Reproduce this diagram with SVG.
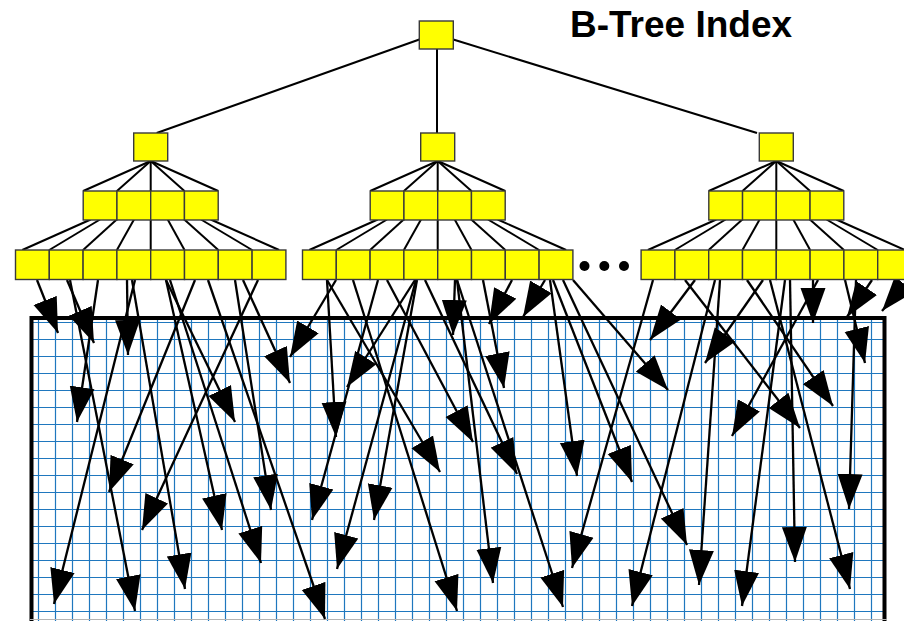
<svg xmlns="http://www.w3.org/2000/svg" width="904" height="621" viewBox="0 0 904 621">
  <style>
    .box { fill: #ffff00; stroke: #3a3a3a; stroke-width: 1.4; }
    .edge { stroke: #000; stroke-width: 2; fill: none; }
    .ptr { stroke: #000; stroke-width: 2.3; fill: none; marker-end: url(#head); }
    .grid { stroke: #1f77be; stroke-width: 1.2; fill: none; }
    .title { font-family: "Liberation Sans", Arial, sans-serif; font-weight: bold; font-size: 37px; fill: #000; }
  </style>
  <defs>
    <marker id="head" markerUnits="userSpaceOnUse" markerWidth="35" markerHeight="26" refX="35" refY="13" orient="auto">
      <path d="M0,0.5 L35,13 L0,25.5 Z" fill="#000"/>
    </marker>
  </defs>

  <rect width="904" height="621" fill="#fff"/>

  <!-- data pages: gridded table area -->
  <g id="table">
    <rect x="31.5" y="318" width="853" height="310" fill="#fff"/>
    <path class="grid" d="
      M38.5,320V621 M55.5,320V621 M72.5,320V621 M89.5,320V621 M106.5,320V621 M123.5,320V621 M140.5,320V621 M157.5,320V621 M174.5,320V621 M191.5,320V621
      M208.5,320V621 M225.5,320V621 M242.5,320V621 M259.5,320V621 M276.5,320V621 M293.5,320V621 M310.5,320V621 M327.5,320V621 M344.5,320V621 M361.5,320V621
      M378.5,320V621 M395.5,320V621 M412.5,320V621 M429.5,320V621 M446.5,320V621 M463.5,320V621 M480.5,320V621 M497.5,320V621 M514.5,320V621 M531.5,320V621
      M548.5,320V621 M565.5,320V621 M582.5,320V621 M599.5,320V621 M616.5,320V621 M633.5,320V621 M650.5,320V621 M667.5,320V621 M684.5,320V621 M701.5,320V621
      M718.5,320V621 M735.5,320V621 M752.5,320V621 M769.5,320V621 M786.5,320V621 M803.5,320V621 M820.5,320V621 M837.5,320V621 M854.5,320V621 M871.5,320V621
      M33,322.5H883 M33,339.5H883 M33,356.5H883 M33,373.5H883 M33,390.5H883 M33,407.5H883 M33,424.5H883 M33,441.5H883 M33,458.5H883
      M33,475.5H883 M33,492.5H883 M33,509.5H883 M33,526.5H883 M33,543.5H883 M33,560.5H883 M33,577.5H883 M33,594.5H883 M33,611.5H883"/>
    <path d="M31.5,624V318H884.5V624" fill="none" stroke="#000" stroke-width="4"/>
    <line x1="30" y1="619.5" x2="887" y2="619.5" stroke="#b4b4b4" stroke-width="1"/>
  </g>

  <!-- connectors: tree edges and leaf-to-row pointers -->
  <g id="connectors">
    <g id="tree-edges" class="edge">
      <line x1="419.3" y1="39.5" x2="156.7" y2="133"/>
      <line x1="437" y1="49" x2="437" y2="133"/>
      <line x1="453.3" y1="39.5" x2="757" y2="133"/>

      <line x1="150.7" y1="161" x2="83.2" y2="191"/>
      <line x1="150.7" y1="161" x2="116.95" y2="191"/>
      <line x1="150.7" y1="161" x2="150.7" y2="250"/>
      <line x1="150.7" y1="161" x2="184.45" y2="191"/>
      <line x1="150.7" y1="161" x2="218.2" y2="191"/>
      <line x1="90.7" y1="219.5" x2="22.3" y2="250"/>
      <line x1="100" y1="219.5" x2="49.3" y2="250"/>
      <line x1="116.7" y1="219.5" x2="83.1" y2="250"/>
      <line x1="134" y1="219.5" x2="116.9" y2="250"/>
      <line x1="167.7" y1="219.5" x2="184.5" y2="250"/>
      <line x1="184.3" y1="219.5" x2="218.3" y2="250"/>
      <line x1="201" y1="219.5" x2="252.1" y2="250"/>
      <line x1="210.7" y1="219.5" x2="279.1" y2="250"/>

      <line x1="437.7" y1="161" x2="370.2" y2="191"/>
      <line x1="437.7" y1="161" x2="403.95" y2="191"/>
      <line x1="437.7" y1="161" x2="437.7" y2="250"/>
      <line x1="437.7" y1="161" x2="471.45" y2="191"/>
      <line x1="437.7" y1="161" x2="505.2" y2="191"/>
      <line x1="377.7" y1="219.5" x2="309.3" y2="250"/>
      <line x1="387" y1="219.5" x2="336.3" y2="250"/>
      <line x1="403.7" y1="219.5" x2="370.1" y2="250"/>
      <line x1="421" y1="219.5" x2="403.9" y2="250"/>
      <line x1="454.7" y1="219.5" x2="471.5" y2="250"/>
      <line x1="471.3" y1="219.5" x2="505.3" y2="250"/>
      <line x1="488" y1="219.5" x2="539.1" y2="250"/>
      <line x1="497.7" y1="219.5" x2="566.1" y2="250"/>

      <line x1="776.3" y1="161" x2="708.8" y2="191"/>
      <line x1="776.3" y1="161" x2="742.55" y2="191"/>
      <line x1="776.3" y1="161" x2="776.3" y2="250"/>
      <line x1="776.3" y1="161" x2="810.05" y2="191"/>
      <line x1="776.3" y1="161" x2="843.8" y2="191"/>
      <line x1="716.3" y1="219.5" x2="647.9" y2="250"/>
      <line x1="725.6" y1="219.5" x2="674.9" y2="250"/>
      <line x1="742.3" y1="219.5" x2="708.7" y2="250"/>
      <line x1="759.6" y1="219.5" x2="742.5" y2="250"/>
      <line x1="793.3" y1="219.5" x2="810.1" y2="250"/>
      <line x1="809.9" y1="219.5" x2="843.9" y2="250"/>
      <line x1="826.6" y1="219.5" x2="877.7" y2="250"/>
      <line x1="836.3" y1="219.5" x2="904.7" y2="250"/>
    </g>

    <g id="row-pointers">
      <line class="ptr" x1="37" y1="280" x2="58" y2="333"/>
      <line class="ptr" x1="67" y1="280" x2="94" y2="343"/>
      <line class="ptr" x1="70" y1="280" x2="135" y2="611"/>
      <line class="ptr" x1="98" y1="280" x2="77" y2="422"/>
      <line class="ptr" x1="127" y1="280" x2="128" y2="355"/>
      <line class="ptr" x1="132" y1="280" x2="185" y2="589"/>
      <line class="ptr" x1="135" y1="280" x2="54" y2="604"/>
      <line class="ptr" x1="166" y1="280" x2="222" y2="530"/>
      <line class="ptr" x1="166" y1="280" x2="235" y2="422"/>
      <line class="ptr" x1="170" y1="280" x2="261" y2="563"/>
      <line class="ptr" x1="195" y1="280" x2="109" y2="492"/>
      <line class="ptr" x1="208" y1="280" x2="325" y2="619"/>
      <line class="ptr" x1="235" y1="280" x2="271" y2="510"/>
      <line class="ptr" x1="243" y1="280" x2="290" y2="383"/>
      <line class="ptr" x1="258" y1="280" x2="142" y2="530"/>

      <line class="ptr" x1="327" y1="280" x2="336" y2="437"/>
      <line class="ptr" x1="327" y1="280" x2="440" y2="472"/>
      <line class="ptr" x1="336" y1="280" x2="290" y2="357"/>
      <line class="ptr" x1="353" y1="280" x2="457" y2="611"/>
      <line class="ptr" x1="378" y1="280" x2="312" y2="520"/>
      <line class="ptr" x1="387" y1="280" x2="473" y2="442"/>
      <line class="ptr" x1="415" y1="280" x2="347" y2="387"/>
      <line class="ptr" x1="417" y1="280" x2="374" y2="520"/>
      <line class="ptr" x1="416" y1="280" x2="337" y2="569"/>
      <line class="ptr" x1="425" y1="280" x2="517" y2="474"/>
      <line class="ptr" x1="455" y1="280" x2="453" y2="335"/>
      <line class="ptr" x1="457" y1="280" x2="493" y2="583"/>
      <line class="ptr" x1="457" y1="280" x2="563" y2="607"/>
      <line class="ptr" x1="483" y1="280" x2="504" y2="388"/>
      <line class="ptr" x1="512" y1="280" x2="489" y2="324"/>
      <line class="ptr" x1="545" y1="280" x2="523" y2="317"/>
      <line class="ptr" x1="550" y1="280" x2="577" y2="476"/>
      <line class="ptr" x1="553" y1="280" x2="632" y2="482"/>
      <line class="ptr" x1="563" y1="280" x2="687" y2="545"/>
      <line class="ptr" x1="573" y1="280" x2="668" y2="390"/>

      <line class="ptr" x1="653" y1="280" x2="572" y2="568"/>
      <line class="ptr" x1="685" y1="280" x2="800" y2="428"/>
      <line class="ptr" x1="695" y1="280" x2="650" y2="340"/>
      <line class="ptr" x1="715" y1="280" x2="632" y2="606"/>
      <line class="ptr" x1="720" y1="280" x2="699" y2="585"/>
      <line class="ptr" x1="747" y1="280" x2="833" y2="406"/>
      <line class="ptr" x1="763" y1="280" x2="705" y2="363"/>
      <line class="ptr" x1="770" y1="280" x2="850" y2="589"/>
      <line class="ptr" x1="785" y1="280" x2="742" y2="606"/>
      <line class="ptr" x1="790" y1="280" x2="795" y2="562"/>
      <line class="ptr" x1="813" y1="280" x2="813" y2="323"/>
      <line class="ptr" x1="818" y1="280" x2="732" y2="436"/>
      <line class="ptr" x1="845" y1="280" x2="865" y2="363"/>
      <line class="ptr" x1="856" y1="280" x2="849" y2="509"/>
      <line class="ptr" x1="872" y1="280" x2="847" y2="317"/>
      <line class="ptr" x1="908" y1="280" x2="882" y2="311"/>
    </g>
  </g>

  <!-- root -->
  <g id="root"><rect class="box" x="419.3" y="21" width="34" height="28"/></g>

  <!-- inner level -->
  <g id="inner-left"><rect class="box" x="133.7" y="133" width="34" height="28"/></g>
  <g id="inner-mid"><rect class="box" x="420.7" y="133" width="34" height="28"/></g>
  <g id="inner-right"><rect class="box" x="759.3" y="133" width="34" height="28"/></g>

  <!-- second level -->
  <g id="level2-left">
    <rect class="box" x="83.2" y="191" width="33.75" height="29"/>
    <rect class="box" x="116.95" y="191" width="33.75" height="29"/>
    <rect class="box" x="150.7" y="191" width="33.75" height="29"/>
    <rect class="box" x="184.45" y="191" width="33.75" height="29"/>
  </g>
  <g id="level2-mid">
    <rect class="box" x="370.2" y="191" width="33.75" height="29"/>
    <rect class="box" x="403.95" y="191" width="33.75" height="29"/>
    <rect class="box" x="437.7" y="191" width="33.75" height="29"/>
    <rect class="box" x="471.45" y="191" width="33.75" height="29"/>
  </g>
  <g id="level2-right">
    <rect class="box" x="708.8" y="191" width="33.75" height="29"/>
    <rect class="box" x="742.55" y="191" width="33.75" height="29"/>
    <rect class="box" x="776.3" y="191" width="33.75" height="29"/>
    <rect class="box" x="810.05" y="191" width="33.75" height="29"/>
  </g>

  <!-- leaves -->
  <g id="leaves-left">
    <rect class="box" x="15.5" y="250" width="33.8" height="29.5"/>
    <rect class="box" x="49.3" y="250" width="33.8" height="29.5"/>
    <rect class="box" x="83.1" y="250" width="33.8" height="29.5"/>
    <rect class="box" x="116.9" y="250" width="33.8" height="29.5"/>
    <rect class="box" x="150.7" y="250" width="33.8" height="29.5"/>
    <rect class="box" x="184.5" y="250" width="33.8" height="29.5"/>
    <rect class="box" x="218.3" y="250" width="33.8" height="29.5"/>
    <rect class="box" x="252.1" y="250" width="33.8" height="29.5"/>
  </g>
  <g id="leaves-mid">
    <rect class="box" x="302.5" y="250" width="33.8" height="29.5"/>
    <rect class="box" x="336.3" y="250" width="33.8" height="29.5"/>
    <rect class="box" x="370.1" y="250" width="33.8" height="29.5"/>
    <rect class="box" x="403.9" y="250" width="33.8" height="29.5"/>
    <rect class="box" x="437.7" y="250" width="33.8" height="29.5"/>
    <rect class="box" x="471.5" y="250" width="33.8" height="29.5"/>
    <rect class="box" x="505.3" y="250" width="33.8" height="29.5"/>
    <rect class="box" x="539.1" y="250" width="33.8" height="29.5"/>
  </g>
  <g id="leaves-right">
    <rect class="box" x="641.1" y="250" width="33.8" height="29.5"/>
    <rect class="box" x="674.9" y="250" width="33.8" height="29.5"/>
    <rect class="box" x="708.7" y="250" width="33.8" height="29.5"/>
    <rect class="box" x="742.5" y="250" width="33.8" height="29.5"/>
    <rect class="box" x="776.3" y="250" width="33.8" height="29.5"/>
    <rect class="box" x="810.1" y="250" width="33.8" height="29.5"/>
    <rect class="box" x="843.9" y="250" width="33.8" height="29.5"/>
    <rect class="box" x="877.7" y="250" width="33.8" height="29.5"/>
  </g>

  <!-- ellipsis between subtrees -->
  <g id="ellipsis" fill="#000">
    <circle cx="584.5" cy="266" r="5"/>
    <circle cx="604.3" cy="266" r="5"/>
    <circle cx="624" cy="266" r="5"/>
  </g>

  <text class="title" x="570" y="37">B-Tree Index</text>
</svg>
